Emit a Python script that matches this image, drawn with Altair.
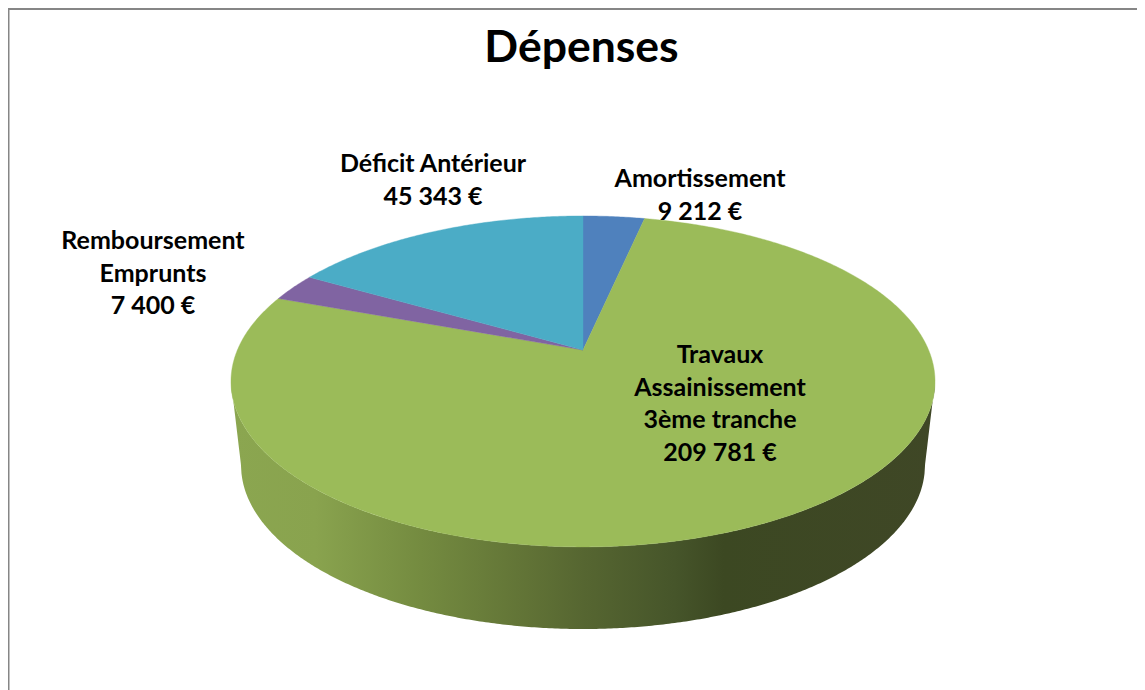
import numpy as np
import pandas as pd
import altair as alt

# Chart values
categories = ["Amortissement", "Travaux Assainissement 3ème tranche", "Remboursement Emprunts", "Déficit Antérieur"]
amounts = [9212, 209781, 7400, 45343]
colors = ["#4F81BD", "#9BBB59", "#8064A2", "#4BACC6"]

# Label text, one entry per slice
label_texts = [
    ["Amortissement", "9 212 €"],
    ["Travaux", "Assainissement", "3ème tranche", "209 781 €"],
    ["Remboursement", "Emprunts", "7 400 €"],
    ["Déficit Antérieur", "45 343 €"],
]
label_anchor = [(692, 171), (712, 347), (145, 233), (425, 156)]

W, H = 1129, 682
FONT = "Lato"

# Tilted disc: screen position of a rim point at clock angle t
APEX = (575, 342)
K, C, A = 159.5, 0.19, 345.6


def rim(t):
    d = 1 + C * np.cos(t)
    return APEX[0] + A * np.sin(t) / d, APEX[1] - K * np.cos(t) / d


# Lower edge of the disc's wall
LOW_CY, LOW_A, LOW_B = 457, 342, 164


def lower_edge(x):
    dx = np.abs(x - APEX[0])
    inside = LOW_CY + LOW_B * np.sqrt(np.clip(1 - (dx / LOW_A) ** 2, 0, 1))
    return np.where(dx <= LOW_A, inside, LOW_CY - (dx - LOW_A) / (352 - LOW_A) * (LOW_CY - 373.4))


X = alt.X("x:Q", scale=alt.Scale(domain=[0, W], range=[0, W]), axis=None)
Y = alt.Y("y:Q", scale=alt.Scale(domain=[0, H], range=[0, H]), axis=None)

# Wall
t_ext = np.arccos(-C)
t = np.radians(np.linspace(np.degrees(t_ext), 360 - np.degrees(t_ext), 400))
wx, wy = rim(t)
wall = pd.DataFrame({"x": wx, "y": wy, "y2": lower_edge(wx)}).sort_values("x")
wall_layer = alt.Chart(wall).mark_area(
    interpolate="linear",
    line=False,
    fill=alt.LinearGradient(
        gradient="linear", x1=0, x2=1, y1=0, y2=0,
        stops=[
            alt.GradientStop(offset=0.0, color="#8BA650"),
            alt.GradientStop(offset=0.12, color="#89A34E"),
            alt.GradientStop(offset=0.27, color="#748B40"),
            alt.GradientStop(offset=0.42, color="#617336"),
            alt.GradientStop(offset=0.50, color="#566631"),
            alt.GradientStop(offset=0.63, color="#46552A"),
            alt.GradientStop(offset=0.70, color="#3C4822"),
            alt.GradientStop(offset=1.0, color="#3F4726"),
        ],
    ),
).encode(x=X, y=Y, y2="y2:Q")

# Top face slices
layers = [wall_layer]
fractions = np.array(amounts) / sum(amounts)
start = 0.0
for name, frac, col in zip(categories, fractions, colors):
    end = start + frac * 2 * np.pi
    th = np.linspace(start, end, max(int(frac * 720), 4))
    px, py = rim(th)
    df = pd.DataFrame({
        "x": np.r_[APEX[0], px, APEX[0]],
        "y": np.r_[APEX[1], py, APEX[1]],
        "i": np.arange(len(px) + 2),
        "categorie": name,
    })
    layers.append(
        alt.Chart(df).mark_line(fill=col, stroke=col, strokeWidth=0.4, interpolate="linear")
        .encode(x=X, y=Y, order="i:Q")
    )
    start = end

# Labels
labels = pd.DataFrame({
    "text": label_texts,
    "x": [c[0] for c in label_anchor],
    "y": [c[1] for c in label_anchor],
})
label_layer = alt.Chart(labels).mark_text(
    font=FONT, fontWeight="bold", fontSize=25, color="#000000",
    align="center", baseline="middle", lineHeight=32.5,
).encode(x=X, y=Y, text="text:N")

# Frame lines
frame_left = alt.Chart(pd.DataFrame({"x": [0.5]})).mark_rule(color="#868686", strokeWidth=2).encode(x=X)
frame_top = alt.Chart(pd.DataFrame({"y": [1]})).mark_rule(color="#868686", strokeWidth=2).encode(y=Y)

chart = alt.layer(*layers, label_layer, frame_left, frame_top).properties(
    width=W, height=H, padding=0, autosize=alt.AutoSizeParams(type="none"),
    title=alt.TitleParams(
        "Dépenses", font=FONT, fontWeight="bold", fontSize=44.5, color="#000000",
        anchor="middle", offset=-108, dx=9, baseline="bottom",
    ),
).configure_view(stroke=None)

chart.save("out.html", embed_options={"renderer": "svg", "actions": False})
